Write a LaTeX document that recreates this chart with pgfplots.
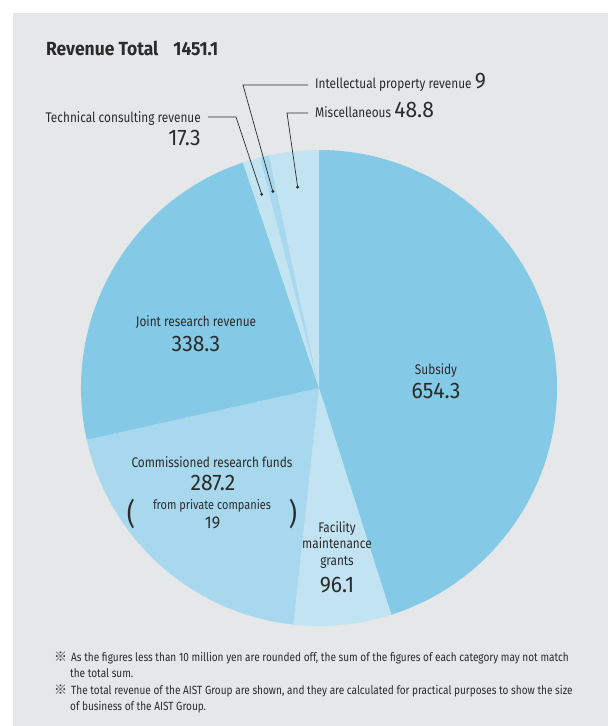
\documentclass[border=0pt]{standalone}
\usepackage{pgfplots}
\pgfplotsset{compat=1.18}
\usepackage{pgfplotstable}
\usepackage{fontspec}
\setmainfont{Fira Sans}[FakeStretch=0.845]
\newfontfamily\numfont{Fira Sans}[FakeStretch=0.94]
\newfontfamily\titlefont{Fira Sans}[FakeStretch=0.92]
\newfontfamily\cjk{Noto Sans CJK JP}

\definecolor{bgray}{HTML}{E6E7E9}
\definecolor{cMid}{HTML}{84CAE6}
\definecolor{cSoft}{HTML}{A8D8ED}
\definecolor{cLight}{HTML}{C2E4F2}
\definecolor{ink}{HTML}{2B2B2B}

% revenue, clockwise from 12 o'clock
\pgfplotstableread{
label value col
Subsidy 654.3 cMid
Facility 96.1 cLight
Commissioned 287.2 cSoft
Joint 338.3 cMid
Technical 17.3 cLight
Intellectual 9 cSoft
Miscellaneous 48.8 cLight
}\revenue

\def\total{0}
\pgfplotsforeachungrouped \i in {0,...,6}{%
  \pgfplotstablegetelem{\i}{value}\of\revenue
  \pgfmathsetmacro\total{\total+\pgfplotsretval}%
}
\def\cum{0}
\pgfplotsforeachungrouped \i in {0,...,6}{%
  \pgfplotstablegetelem{\i}{value}\of\revenue
  \expandafter\xdef\csname a\i\endcsname{\cum}%
  \pgfmathsetmacro\cum{\cum+\pgfplotsretval/\total*360}%
  \expandafter\xdef\csname b\i\endcsname{\cum}%
  \pgfmathsetmacro\midang{(\csname a\i\endcsname+\cum)/2}%
  \expandafter\xdef\csname m\i\endcsname{\midang}%
  \pgfplotstablegetelem{\i}{col}\of\revenue
  \expandafter\xdef\csname c\i\endcsname{\pgfplotsretval}%
}
\def\ang#1{\csname m#1\endcsname}

\newcommand\lbl{\fontsize{14}{16}\selectfont}
\newcommand\num{\numfont\fontsize{22.5}{24}\selectfont}
\newcommand\note{\fontsize{11.9}{13}\selectfont}

\begin{document}
\begin{tikzpicture}
\begin{axis}[
    x=1pt, y=1pt, y dir=reverse,
    xmin=0, xmax=608, ymin=0, ymax=726,
    hide axis, clip=false,
]
\def\cx{319}\def\cy{388}\def\rad{238}
\fill[white] (axis cs:0,0) rectangle (axis cs:608,726);
\fill[bgray] (axis cs:13,13) rectangle (axis cs:608,726);

% slices
\pgfplotsinvokeforeach{0,...,6}{
  \fill[fill=\csname c#1\endcsname]
    (axis cs:\cx,\cy) --
    (axis cs:{\cx+\rad*sin(\csname a#1\endcsname)},{\cy-\rad*cos(\csname a#1\endcsname)})
    arc[start angle={90-\csname a#1\endcsname}, end angle={90-\csname b#1\endcsname}, radius=\rad pt]
    -- cycle;
}

% leaders to the small slices
\draw[ink, line width=0.7pt] (axis cs:208,117) -- (axis cs:236,117)
  -- (axis cs:{\cx+202*sin(\ang{4})},{\cy-202*cos(\ang{4})});
\draw[ink, line width=0.7pt] (axis cs:308,85) -- (axis cs:243,85)
  -- (axis cs:{\cx+202*sin(\ang{5})},{\cy-202*cos(\ang{5})});
\draw[ink, line width=0.7pt] (axis cs:308,113) -- (axis cs:287,113)
  -- (axis cs:{\cx+202*sin(\ang{6})},{\cy-202*cos(\ang{6})});
\fill[ink] (axis cs:{\cx+202*sin(\ang{4})},{\cy-202*cos(\ang{4})}) circle[radius=1.6pt];
\fill[ink] (axis cs:{\cx+202*sin(\ang{5})},{\cy-202*cos(\ang{5})}) circle[radius=1.6pt];
\fill[ink] (axis cs:{\cx+202*sin(\ang{6})},{\cy-202*cos(\ang{6})}) circle[radius=1.6pt];

\begin{scope}[every node/.style={text=ink, inner sep=0pt}]
\node[anchor=base west, font=\titlefont\fontsize{19}{21}\selectfont\bfseries] at (axis cs:46,55) {Revenue Total\hspace{15pt}1451.1};

\node[anchor=base east, font=\lbl] at (axis cs:201,122) {Technical consulting revenue};
\node[anchor=base east, font=\num] at (axis cs:201,145) {17.3};
\node[anchor=base west, font=\lbl] at (axis cs:315,88) {Intellectual property revenue {\num 9}};
\node[anchor=base west, font=\lbl] at (axis cs:315,117) {Miscellaneous {\num 48.8}};

\node[anchor=base, font=\lbl] at (axis cs:436,374) {Subsidy};
\node[anchor=base, font=\num] at (axis cs:436,398) {654.3};

\node[anchor=base, font=\lbl] at (axis cs:196,326) {Joint research revenue};
\node[anchor=base, font=\num] at (axis cs:196,351) {338.3};

\node[anchor=base, font=\lbl] at (axis cs:212,467) {Commissioned research funds};
\node[anchor=base, font=\num] at (axis cs:213,490) {287.2};
\node[anchor=base, font=\fontsize{13}{15}\selectfont] at (axis cs:212,509) {from private companies};
\node[anchor=base, font=\numfont\fontsize{17}{19}\selectfont] at (axis cs:212.5,528) {19};
\node[anchor=base, font=\fontsize{30}{32}\selectfont] at (axis cs:131,524) {(};
\node[anchor=base, font=\fontsize{30}{32}\selectfont] at (axis cs:293,524) {)};

\node[anchor=base, font=\lbl] at (axis cs:337,532) {Facility};
\node[anchor=base, font=\lbl] at (axis cs:337,548) {maintenance};
\node[anchor=base, font=\lbl] at (axis cs:337,565) {grants};
\node[anchor=base, font=\num] at (axis cs:337,592) {96.1};

\node[anchor=base west, font=\fontsize{13}{14}\selectfont\cjk] at (axis cs:54,661) {※};
\node[anchor=base west, font=\note] at (axis cs:71,661) {As the figures less than 10 million yen are rounded off, the sum of the figures of each category may not match};
\node[anchor=base west, font=\note] at (axis cs:70,677) {the total sum.};
\node[anchor=base west, font=\fontsize{13}{14}\selectfont\cjk] at (axis cs:54,694) {※};
\node[anchor=base west, font=\note] at (axis cs:71,694) {The total revenue of the AIST Group are shown, and they are calculated for practical purposes to show the size};
\node[anchor=base west, font=\note] at (axis cs:70,710) {of business of the AIST Group.};
\end{scope}
\end{axis}
\end{tikzpicture}
\end{document}
